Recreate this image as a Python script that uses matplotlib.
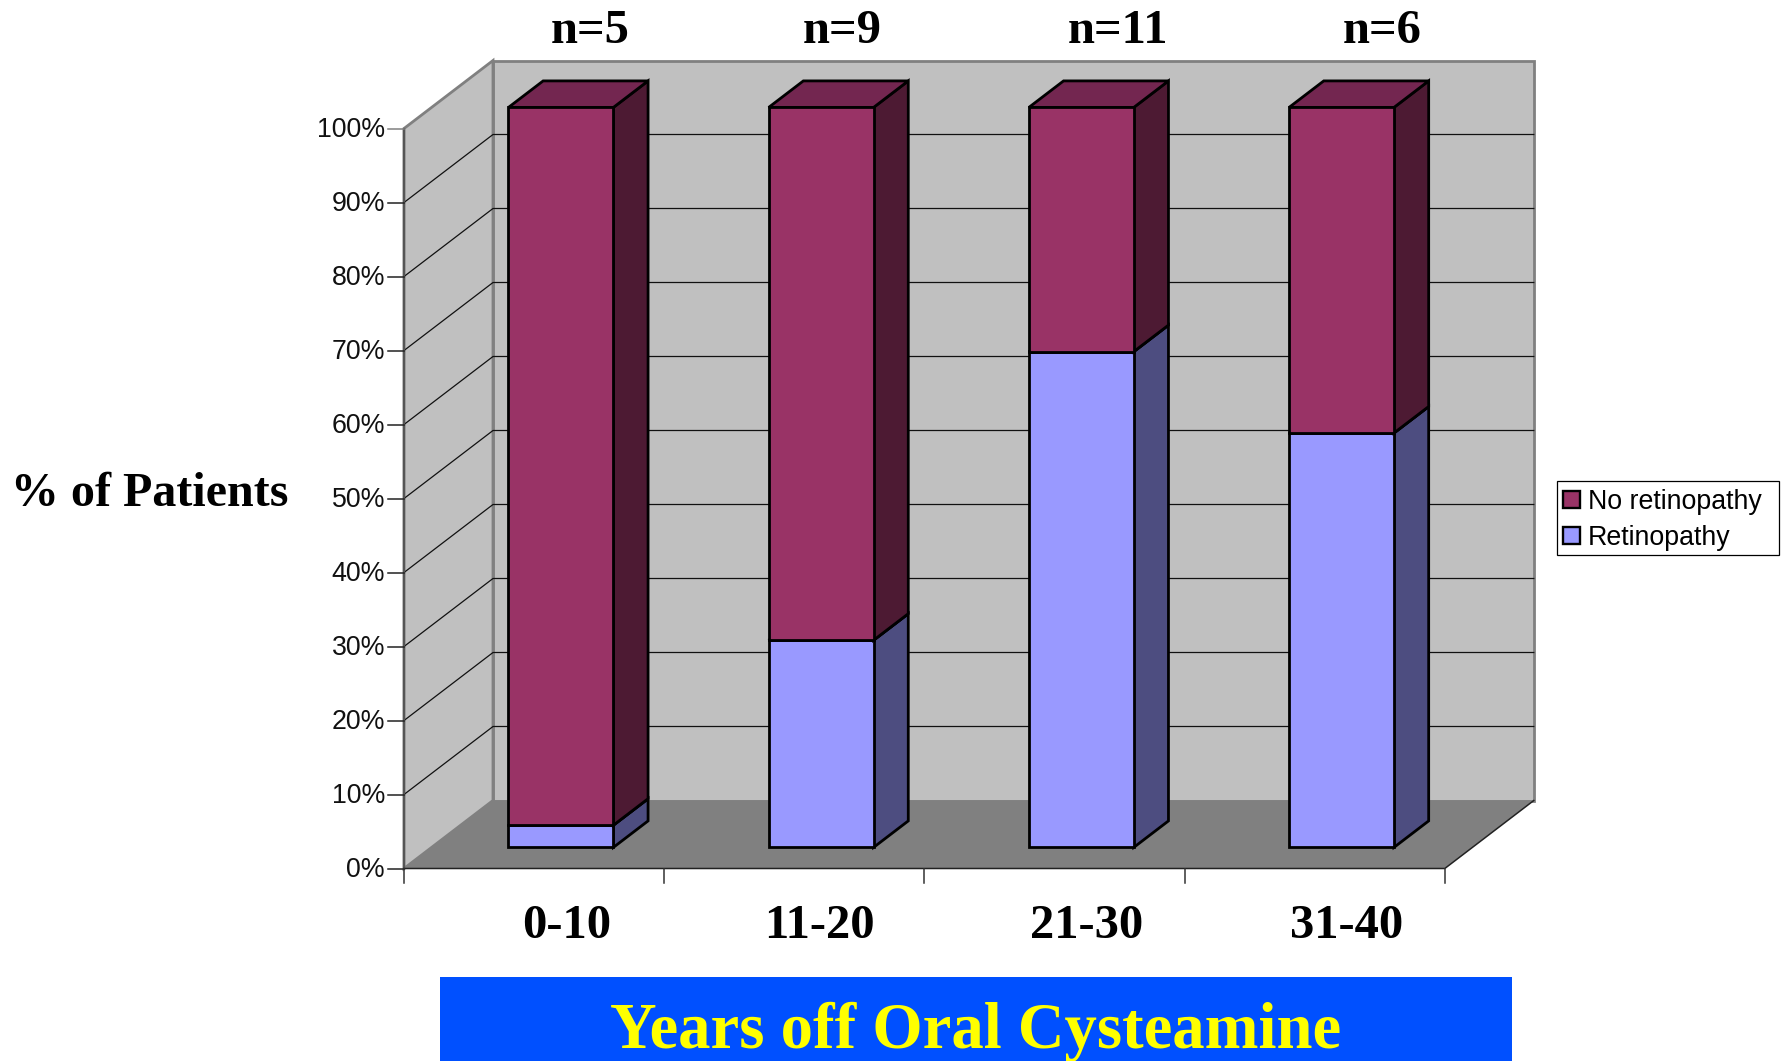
import matplotlib
matplotlib.use('Agg')
import matplotlib.pyplot as plt
from matplotlib.patches import Polygon, Rectangle, Patch

categories = ['0-10', '11-20', '21-30', '31-40']
counts = ['n=5', 'n=9', 'n=11', 'n=6']
retinopathy = [3, 28, 67, 56]
no_retinopathy = [97, 72, 33, 44]
percent_ticks = [0, 10, 20, 30, 40, 50, 60, 70, 80, 90, 100]

sans = 'Liberation Sans'
serif = 'Liberation Serif'

# pixel geometry of the fake 3d box
X0, Y0 = 404, 868.5
CAT_W = 260.2
PCT_H = 7.40
DX, DY = 89, 68


def project(cat, pct, depth=0):
    return (X0 + cat * CAT_W + depth * DX, Y0 - pct * PCT_H - depth * DY)


fig = plt.figure(figsize=(17.86, 10.61), dpi=100)
ax = fig.add_axes([0, 0, 1, 1])
ax.set_xlim(0, 1786)
ax.set_ylim(1061, 0)
ax.axis('off')

n = len(categories)

# walls and floor
ax.add_patch(Polygon([project(0, 0, 1), project(n, 0, 1), project(n, 100, 1), project(0, 100, 1)],
                     fc='#C0C0C0', ec='#808080', lw=2, zorder=1))
ax.add_patch(Polygon([project(0, 0), project(0, 0, 1), project(0, 100, 1), project(0, 100)],
                     fc='#C0C0C0', ec='#808080', lw=2, zorder=1))
ax.add_patch(Polygon([project(0, 0), project(n, 0), project(n, 0, 1), project(0, 0, 1)],
                     fc='#808080', ec='none', zorder=2))

# gridlines over the side and back wall
for p in percent_ticks[1:-1]:
    a, b, c = project(0, p), project(0, p, 1), project(n, p, 1)
    ax.plot([a[0], b[0], c[0]], [a[1], b[1], c[1]], color='#111111', lw=0.9, zorder=2)

# axis lines and ticks
ax.plot(*zip(project(0, 0), project(0, 100)), color='#555555', lw=1.6, zorder=3)
ax.plot(*zip(project(0, 0), project(n, 0), project(n, 0, 1)), color='#222222', lw=1.1, zorder=3)
for p in percent_ticks:
    x, y = project(0, p)
    col = '#808080' if p == 100 else '#222222'
    ax.plot([x - 16, x], [y, y], color=col, lw=1.1, zorder=3)
    ax.text(x - 19, y - 1.5, f'{p}%', ha='right', va='center_baseline', family=sans, fontsize=19.3, color='#111111')
for i in range(n + 1):
    x, y = project(i, 0)
    ax.plot([x, x], [y, y + 14], color='#333333', lw=1.1, zorder=3)

# bars
BAR_HALF = 0.2016
BAR_SHIFT = -0.003
D1, D2 = 0.31, 0.70
FRONT = ['#9999FF', '#993366']
SIDE = ['#4D4D80', '#4D1A33']
TOP = ['#7373BF', '#732650']


def draw_block(i, low, high, k, z):
    l, r = i + 0.5 + BAR_SHIFT - BAR_HALF, i + 0.5 + BAR_SHIFT + BAR_HALF
    style = dict(ec='black', lw=2, joinstyle='miter', zorder=z)
    ax.add_patch(Polygon([project(r, low, D1), project(r, low, D2), project(r, high, D2), project(r, high, D1)],
                         fc=SIDE[k], **style))
    ax.add_patch(Polygon([project(l, high, D1), project(r, high, D1), project(r, high, D2), project(l, high, D2)],
                         fc=TOP[k], **style))
    ax.add_patch(Polygon([project(l, low, D1), project(r, low, D1), project(r, high, D1), project(l, high, D1)],
                         fc=FRONT[k], **style))


for i in range(n):
    draw_block(i, 0, retinopathy[i], 0, 4)
    draw_block(i, retinopathy[i], retinopathy[i] + no_retinopathy[i], 1, 5)

# text around the plot
label_x = [567, 819, 1087, 1347]
count_x = [590, 842, 1118, 1382]
for i in range(n):
    ax.text(label_x[i], 926, categories[i], ha='center', va='center', family=serif,
            weight='bold', fontsize=35, color='black')
    ax.text(count_x[i], 31, counts[i], ha='center', va='center', family=serif,
            weight='bold', fontsize=35, color='black')

ax.text(150, 494, '% of Patients', ha='center', va='center', family=serif,
        weight='bold', fontsize=34.6, color='black')

ax.add_patch(Rectangle((440, 977), 1072, 84, fc='#0050FF', ec='none', zorder=1))
ax.text(976, 1032, 'Years off Oral Cysteamine', ha='center', va='center', family=serif,
        weight='bold', fontsize=46.5, color='#FFFF00', zorder=2)

# legend, box drawn apart because the original has extra room on the right
ax.add_patch(Rectangle((1557, 481), 222, 74, fc='white', ec='black', lw=0.9, zorder=1))
handles = [Patch(fc=FRONT[1], ec='black', lw=1.7, label='No retinopathy'),
           Patch(fc=FRONT[0], ec='black', lw=1.7, label='Retinopathy')]
leg = ax.legend(handles=handles, loc='upper left', bbox_to_anchor=(1556, 482),
                bbox_transform=ax.transData, frameon=False,
                prop={'family': sans, 'size': 19.3},
                handlelength=0.63, handleheight=0.63, handletextpad=0.3,
                borderpad=0.26, borderaxespad=0, labelspacing=0.37)

fig.savefig('out.png', dpi=100)
